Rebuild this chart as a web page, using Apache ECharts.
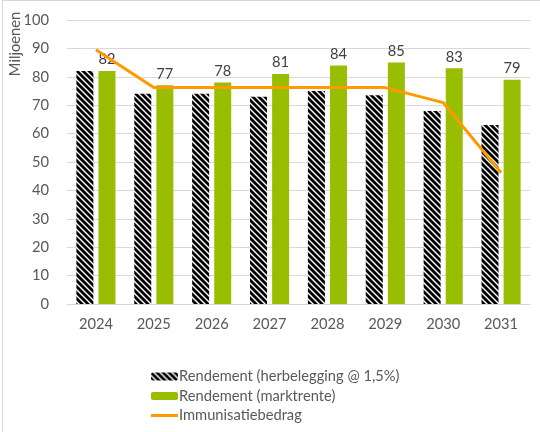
<!DOCTYPE html>
<html><head><meta charset="utf-8">
<script src="https://cdn.jsdelivr.net/npm/echarts@6/dist/echarts.min.js"></script>
<style>html,body{margin:0;padding:0;background:#fff}#c{width:540px;height:432px}</style>
</head><body><div id="c"></div>
<script>
const categories = ['2024','2025','2026','2027','2028','2029','2030','2031'];
const herbelegging = [82, 74, 74, 73, 75, 73.5, 68, 63];
const marktrente = [82, 77, 78, 81, 84, 85, 83, 79];
const immunisatie = [89.5, 76.2, 76.2, 76.2, 76.2, 76.2, 70.9, 46.2];
const yTicks = [0, 100, 10];

function hatch() {
  const s = 6;
  const c = document.createElement('canvas');
  c.width = s; c.height = s;
  const g = c.getContext('2d');
  g.fillStyle = '#fff'; g.fillRect(0,0,s,s);
  g.strokeStyle = '#000'; g.lineWidth = 2.8;
  for (const o of [-s, 0, s]) {
    g.beginPath(); g.moveTo(o - 1, -1); g.lineTo(o + s + 1, s + 1); g.stroke();
  }
  return c;
}

const font = 'Lato, "Open Sans", sans-serif';
const fs = 14.7;
const chart = echarts.init(document.getElementById('c'), null, {renderer: 'canvas'});
chart.setOption({
  animation: false,
  textStyle: {fontFamily: font},
  grid: {left: 67, right: 10, top: 20, bottom: 128},
  graphic: [
    {type: 'line', shape: {x1: 2, y1: 0.5, x2: 540, y2: 0.5}, style: {stroke: '#d9d9d9', lineWidth: 1}},
    {type: 'line', shape: {x1: 2.5, y1: 0, x2: 2.5, y2: 432}, style: {stroke: '#d9d9d9', lineWidth: 1}},
    {type: 'text', x: 15, y: 44, rotation: Math.PI/2, style: {text: 'Miljoenen', fill: '#595959', font: fs + 'px ' + font, align: 'center', verticalAlign: 'middle'}}
  ],
  legend: {
    orient: 'vertical', left: 146, top: 364, itemWidth: 27, itemHeight: 8, itemGap: 4.5,
    textStyle: {color: '#595959', fontSize: fs, fontFamily: font, padding: [0,0,0,-4]},
    data: [
      {name: 'Rendement (herbelegging @ 1,5%)'},
      {name: 'Rendement (marktrente)'},
      {name: 'Immunisatiebedrag', icon: 'path://M0,0L27,0L27,3L0,3Z'}
    ]
  },
  xAxis: {
    type: 'category', data: categories,
    axisLine: {lineStyle: {color: '#d9d9d9'}}, axisTick: {show: false},
    axisLabel: {color: '#595959', fontSize: fs, margin: 13}
  },
  yAxis: {
    type: 'value', min: yTicks[0], max: yTicks[1], interval: yTicks[2],
    axisLabel: {color: '#595959', fontSize: fs, margin: 18},
    splitLine: {lineStyle: {color: '#d9d9d9'}}
  },
  series: [
    {name: 'Rendement (herbelegging @ 1,5%)', type: 'bar', data: herbelegging, barWidth: 17, barGap: '30%',
     itemStyle: {color: {image: hatch(), repeat: 'repeat'}}},
    {name: 'Rendement (marktrente)', type: 'bar', data: marktrente, barWidth: 17,
     itemStyle: {color: '#99bd00'},
     label: {show: true, position: 'top', color: '#404040', fontSize: fs, distance: 4}},
    {name: 'Immunisatiebedrag', type: 'line', data: immunisatie, symbol: 'none', z: 5,
     lineStyle: {color: '#ff9900', width: 3}, itemStyle: {color: '#ff9900'}}
  ]
});
</script></body></html>
